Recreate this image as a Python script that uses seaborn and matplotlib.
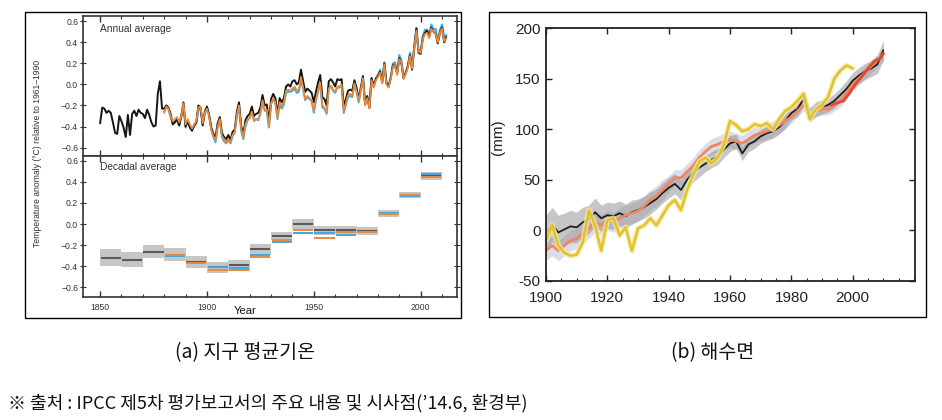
import numpy as np
import matplotlib
matplotlib.use("Agg")
import matplotlib.pyplot as plt
import seaborn as sns
from matplotlib.patches import Rectangle
from matplotlib.ticker import MultipleLocator

# ---- (a) global mean temperature anomaly, annual ----
had_years = list(range(1850, 2013))
had_annual = [
    -0.37, -0.22, -0.23, -0.27, -0.25, -0.27, -0.36, -0.46, -0.47, -0.30,
    -0.35, -0.41, -0.50, -0.29, -0.48, -0.28, -0.25, -0.30, -0.24, -0.27,
    -0.28, -0.32, -0.24, -0.29, -0.36, -0.40, -0.39, -0.09, 0.03, -0.23,
    -0.23, -0.20, -0.22, -0.28, -0.38, -0.36, -0.33, -0.39, -0.30, -0.17,
    -0.40, -0.35, -0.41, -0.44, -0.39, -0.36, -0.20, -0.22, -0.39, -0.26,
    -0.21, -0.29, -0.41, -0.47, -0.50, -0.37, -0.31, -0.46, -0.50, -0.52,
    -0.48, -0.53, -0.45, -0.43, -0.26, -0.17, -0.39, -0.48, -0.34, -0.30,
    -0.28, -0.21, -0.30, -0.28, -0.27, -0.22, -0.10, -0.20, -0.19, -0.36,
    -0.14, -0.09, -0.13, -0.28, -0.13, -0.17, -0.13, -0.02, 0.00, -0.02,
    0.03, 0.04, 0.00, 0.02, 0.14, 0.03, -0.07, -0.04, -0.06, -0.08,
    -0.17, -0.07, 0.02, 0.09, -0.12, -0.14, -0.20, 0.03, 0.05, 0.02,
    -0.02, 0.05, 0.04, 0.05, -0.21, -0.14, -0.06, -0.05, -0.06, 0.04,
    -0.03, -0.14, -0.03, 0.08, -0.19, -0.11, -0.22, 0.06, -0.02, 0.05,
    0.08, 0.12, 0.02, 0.20, 0.01, -0.02, 0.06, 0.18, 0.18, 0.10,
    0.25, 0.20, 0.06, 0.11, 0.17, 0.28, 0.14, 0.35, 0.53, 0.30,
    0.29, 0.44, 0.49, 0.51, 0.45, 0.54, 0.50, 0.48, 0.39, 0.49,
    0.54, 0.40, 0.45,
]
other_years = list(range(1880, 2013))
noaa_annual = [
    -0.27, -0.21, -0.23, -0.30, -0.35, -0.33, -0.31, -0.36, -0.30, -0.18,
    -0.38, -0.33, -0.38, -0.42, -0.38, -0.35, -0.22, -0.21, -0.37, -0.27,
    -0.23, -0.30, -0.43, -0.49, -0.53, -0.40, -0.33, -0.49, -0.52, -0.55,
    -0.52, -0.55, -0.48, -0.45, -0.29, -0.20, -0.42, -0.50, -0.38, -0.33,
    -0.32, -0.26, -0.35, -0.33, -0.33, -0.27, -0.15, -0.24, -0.24, -0.40,
    -0.18, -0.13, -0.17, -0.31, -0.17, -0.21, -0.17, -0.06, -0.05, -0.06,
    -0.04, -0.02, -0.06, -0.05, 0.07, -0.03, -0.14, -0.11, -0.13, -0.15,
    -0.25, -0.14, -0.06, 0.02, -0.20, -0.22, -0.27, -0.04, -0.01, -0.05,
    -0.07, -0.02, -0.02, 0.00, -0.25, -0.18, -0.10, -0.09, -0.11, 0.01,
    -0.06, -0.16, -0.05, 0.06, -0.20, -0.13, -0.23, 0.04, -0.03, 0.04,
    0.07, 0.11, 0.01, 0.19, 0.00, -0.03, 0.05, 0.17, 0.18, 0.09,
    0.24, 0.21, 0.05, 0.10, 0.16, 0.27, 0.15, 0.34, 0.51, 0.31,
    0.30, 0.43, 0.48, 0.49, 0.44, 0.53, 0.50, 0.48, 0.40, 0.49,
    0.53, 0.41, 0.44,
]
giss_annual = [
    -0.26, -0.20, -0.24, -0.31, -0.37, -0.35, -0.34, -0.39, -0.31, -0.20,
    -0.41, -0.34, -0.39, -0.43, -0.40, -0.37, -0.24, -0.23, -0.38, -0.28,
    -0.22, -0.29, -0.42, -0.50, -0.55, -0.41, -0.34, -0.50, -0.54, -0.56,
    -0.53, -0.56, -0.49, -0.46, -0.30, -0.21, -0.44, -0.52, -0.40, -0.34,
    -0.32, -0.25, -0.34, -0.33, -0.34, -0.28, -0.16, -0.25, -0.25, -0.41,
    -0.19, -0.14, -0.18, -0.33, -0.19, -0.23, -0.19, -0.08, -0.07, -0.07,
    -0.06, -0.04, -0.08, -0.07, 0.05, -0.05, -0.15, -0.12, -0.14, -0.16,
    -0.27, -0.15, -0.07, 0.01, -0.22, -0.23, -0.28, -0.04, -0.02, -0.06,
    -0.08, -0.03, -0.03, -0.01, -0.27, -0.20, -0.12, -0.11, -0.12, 0.00,
    -0.07, -0.17, -0.06, 0.07, -0.19, -0.12, -0.22, 0.06, -0.01, 0.06,
    0.09, 0.14, 0.02, 0.21, 0.02, -0.01, 0.07, 0.20, 0.21, 0.12,
    0.28, 0.23, 0.06, 0.11, 0.18, 0.30, 0.17, 0.36, 0.54, 0.33,
    0.32, 0.46, 0.52, 0.52, 0.47, 0.57, 0.52, 0.53, 0.41, 0.52,
    0.57, 0.45, 0.47,
]

# ---- (a) decadal averages ----
decades = [1850, 1860, 1870, 1880, 1890, 1900, 1910, 1920,
           1930, 1940, 1950, 1960, 1970, 1980, 1990, 2000]
had_decadal = [-0.32, -0.335, -0.26, -0.29, -0.36, -0.41, -0.39, -0.24,
               -0.115, 0.0, -0.06, -0.055, -0.065, 0.10, 0.275, 0.455]
had_decadal_err = [0.08, 0.07, 0.06, 0.06, 0.06, 0.05, 0.05, 0.05,
                   0.04, 0.045, 0.04, 0.04, 0.035, 0.03, 0.03, 0.04]
noaa_decadal = [np.nan, np.nan, np.nan, -0.29, -0.37, -0.43, -0.43, -0.31,
                -0.15, -0.06, -0.135, -0.07, -0.075, 0.10, 0.275, 0.45]
giss_decadal = [np.nan, np.nan, np.nan, -0.30, -0.37, -0.41, -0.42, -0.29,
                -0.17, -0.085, -0.08, -0.10, -0.07, 0.11, 0.27, 0.47]

# ---- (b) sea level (mm) ----
sl_years = list(range(1900, 2011, 2))
sl_black = [-3, 6, -2, 1, 4, 3, 8, 11, 18, 12,
            15, 14, 17, 14, 18, 20, 23, 27, 31, 37,
            42, 46, 40, 50, 57, 62, 66, 70, 73, 80,
            86, 88, 76, 85, 88, 93, 96, 98, 102, 108,
            116, 120, 130, 114, 120, 122, 124, 128, 134, 140,
            148, 153, 157, 160, 164, 178]
sl_black_err = [18, 17, 17, 16, 16, 15, 15, 14, 14, 13,
                13, 13, 12, 12, 12, 11, 11, 11, 10, 10,
                10, 10, 10, 9, 9, 9, 8, 8, 8, 8,
                8, 7, 7, 7, 7, 7, 7, 7, 7, 7,
                7, 7, 7, 7, 7, 7, 7, 7, 7, 8,
                8, 8, 8, 8, 9, 10]
sl_orange = [-20, -15, -20, -15, -10, -8, -3, 2, 8, 5,
             10, 8, 12, 15, 17, 19, 24, 30, 34, 40,
             46, 52, 52, 58, 64, 72, 78, 83, 85, 88,
             90, 88, 86, 90, 94, 96, 98, 100, 104, 108,
             112, 118, 124, 115, 118, 120, 120, 124, 128, 136,
             144, 150, 156, 162, 168, 174]
sl_orange_err = [10, 10, 10, 10, 10, 10, 10, 10, 10, 10,
                 10, 10, 10, 10, 10, 10, 10, 10, 10, 10,
                 8, 8, 8, 8, 8, 8, 8, 8, 8, 8,
                 8, 8, 8, 8, 8, 8, 8, 8, 8, 8,
                 6, 6, 6, 6, 6, 6, 6, 6, 6, 6,
                 6, 6, 6, 6, 6, 6]
yel_years = list(range(1900, 2001, 2))
sl_yellow = [-10, 5, -15, -22, -25, -24, -12, 20, 5, -20,
             10, 12, -5, 3, -20, 2, 5, 12, 5, 15,
             25, 30, 20, 40, 55, 68, 72, 66, 72, 85,
             108, 104, 98, 100, 105, 103, 106, 100, 110, 118,
             122, 128, 135, 110, 120, 124, 132, 150, 158, 163,
             160]
red_years = [1993, 1995, 1997, 1999, 2001, 2003, 2005, 2007, 2009, 2010]
sl_red = [124, 126, 128, 136, 145, 152, 160, 167, 170, 175]

sns.set_style("ticks")
plt.rcParams["font.family"] = ["Liberation Sans", "DejaVu Sans"]
plt.rcParams["axes.unicode_minus"] = False
KR = ["Noto Sans CJK KR", "DejaVu Sans"]

W, H = 942, 420
fig = plt.figure(figsize=(9.42, 4.2), dpi=100)


def frame(x0, y0, x1, y1):
    fig.add_artist(Rectangle((x0 / W, 1 - y1 / H), (x1 - x0) / W, (y1 - y0) / H,
                             transform=fig.transFigure, fill=False,
                             lw=1.0, ec="black"))


frame(25, 12, 461, 318)
frame(489, 12, 926, 317)

ax1 = fig.add_axes([83 / W, 1 - 156 / H, 374 / W, 140 / H])
ax2 = fig.add_axes([83 / W, 1 - 297 / H, 374 / W, 141 / H])

c_black, c_orange, c_blue = "#151515", "#E8893C", "#3FA8E0"

sns.lineplot(x=other_years, y=giss_annual, ax=ax1, color=c_blue, lw=1.4)
sns.lineplot(x=had_years, y=had_annual, ax=ax1, color=c_black, lw=1.4)
sns.lineplot(x=other_years, y=noaa_annual, ax=ax1, color=c_orange, lw=1.3)

# decadal boxes
had_d = np.array(had_decadal)
had_e = np.array(had_decadal_err)
ax2.bar(decades, 2 * had_e, bottom=had_d - had_e, width=10, align="edge",
        color="#c6c6c6", edgecolor="none")
dec = np.array(decades)
ax2.hlines(had_decadal, dec + 0.3, dec + 9.7, color="#5a5a5a", lw=1.5)
ax2.hlines(giss_decadal, dec + 0.3, dec + 9.7, color=c_blue, lw=1.4)
ax2.hlines(noaa_decadal, dec + 0.3, dec + 9.7, color=c_orange, lw=1.4)

for ax, lim in ((ax1, (-0.68, 0.65)), (ax2, (-0.69, 0.645))):
    ax.set_xlim(1842, 2017)
    ax.set_ylim(*lim)
    ax.set_yticks([-0.6, -0.4, -0.2, 0.0, 0.2, 0.4, 0.6])
    ax.set_yticklabels(["\u22120.6", "\u22120.4", "\u22120.2", "0.0", "0.2", "0.4", "0.6"])
    ax.xaxis.set_major_locator(MultipleLocator(50))
    ax.xaxis.set_minor_locator(MultipleLocator(10))
    ax.tick_params(axis="x", which="both", direction="in", top=True, bottom=True,
                   color="#333", labelsize=6.2, labelcolor="#333", pad=4)
    ax.tick_params(axis="x", which="major", length=4, width=1.0)
    ax.tick_params(axis="x", which="minor", length=2.5, width=0.8)
    ax.tick_params(axis="y", which="major", direction="inout", left=True, right=True,
                   length=4, width=0.8, color="#333", labelsize=6.2, labelcolor="#333",
                   pad=1.5)
    for s in ax.spines.values():
        s.set_color("#333")
        s.set_linewidth(1.2)
    ax.set_xlabel("")
    ax.set_ylabel("")

ax1.set_xticks([1850, 1900, 1950, 2000])
ax1.tick_params(axis="x", labelbottom=False)
ax2.set_xticks([1850, 1900, 1950, 2000])
ax2.set_xticklabels(["1850", "1900", "1950", "2000"])

ax1.text(0.045, 0.905, "Annual average", transform=ax1.transAxes,
         fontsize=7.3, color="#333", va="center")
ax2.text(0.045, 0.92, "Decadal average", transform=ax2.transAxes,
         fontsize=7.3, color="#333", va="center")
fig.text(38 / W, 1 - 153 / H, "Temperature anomaly (°C) relative to 1961–1990",
         rotation=90, fontsize=6.2, color="#333", ha="center", va="center")
fig.text(245 / W, 1 - 311 / H, "Year", fontsize=8, color="#111",
         ha="center", va="center")

# ---- (b) sea level panel ----
ax3 = fig.add_axes([546 / W, 1 - 281 / H, 369 / W, 253 / H])
b = np.array(sl_black)
be = np.array(sl_black_err)
o = np.array(sl_orange)
oe = np.array(sl_orange_err)
ax3.fill_between(sl_years, o - oe, o + oe, color="#b4b5cf", alpha=0.45, lw=0)
ax3.fill_between(sl_years, b - be, b + be, color="#8e8e8e", alpha=0.5, lw=0)
sns.lineplot(x=sl_years, y=sl_black, ax=ax3, color="#1e1e1e", lw=1.3)
sns.lineplot(x=sl_years, y=sl_orange, ax=ax3, color="#F0875F", lw=2.0)
sns.lineplot(x=yel_years, y=sl_yellow, ax=ax3, color="#f3e9a6", lw=4.0, alpha=0.8)
sns.lineplot(x=yel_years, y=sl_yellow, ax=ax3, color="#E2C22A", lw=1.8)
sns.lineplot(x=red_years, y=sl_red, ax=ax3, color="#E8452C", lw=2.0)

ax3.set_xlim(1900, 2020.3)
ax3.set_ylim(-50, 200)
ax3.set_xticks([1900, 1920, 1940, 1960, 1980, 2000])
ax3.xaxis.set_minor_locator(MultipleLocator(5))
ax3.set_yticks([-50, 0, 50, 100, 150, 200])
ax3.tick_params(axis="both", which="major", direction="in", top=True, right=True,
                length=4, width=1.0, color="#222", labelsize=11, labelcolor="#222")
ax3.tick_params(axis="x", which="major", pad=7)
ax3.tick_params(axis="y", which="major", pad=4)
ax3.tick_params(axis="x", which="minor", direction="in", bottom=True, top=False,
                length=2.5, width=0.8)
for s in ax3.spines.values():
    s.set_color("#222")
    s.set_linewidth(1.3)
ax3.set_xlabel("")
ax3.set_ylabel("")
fig.text(498 / W, 1 - 137 / H, "(mm)", rotation=90, fontsize=11, color="#222",
         ha="center", va="center")

# ---- captions ----
fig.text(245 / W, 1 - 353 / H, "(a) 지구 평균기온", family=KR, fontsize=14,
         ha="center", va="center", color="#111")
fig.text(713 / W, 1 - 353 / H, "(b) 해수면", family=KR, fontsize=14,
         ha="center", va="center", color="#111")
fig.text(8 / W, 1 - 403 / H, "※ 출처 : IPCC 제5차 평가보고서의 주요 내용 및 시사점(’14.6, 환경부)",
         family=KR, fontsize=13, ha="left", va="center", color="#111")

fig.savefig("out.png", dpi=100)
